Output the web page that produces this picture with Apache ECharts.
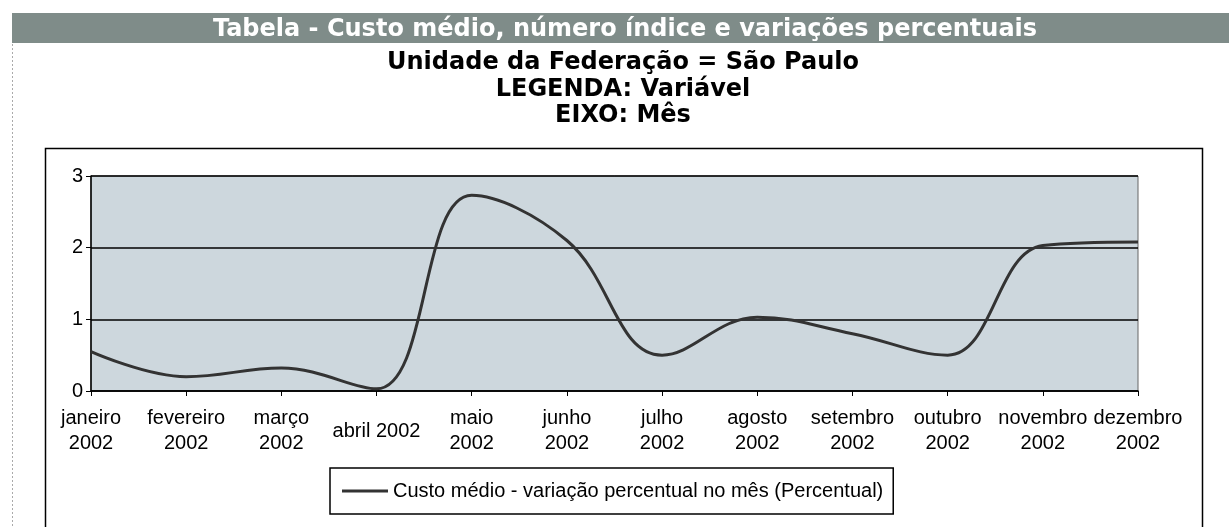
<!DOCTYPE html>
<html>
<head>
<meta charset="utf-8">
<script src="https://cdn.jsdelivr.net/npm/echarts@6/dist/echarts.min.js"></script>
<style>
  html, body { margin: 0; padding: 0; background: #fff; }
  #main { width: 1229px; height: 527px; }
</style>
</head>
<body>
<div id="main"></div>
<script>
var months = [
  'janeiro\n2002', 'fevereiro\n2002', 'março\n2002', 'abril 2002',
  'maio\n2002', 'junho\n2002', 'julho\n2002', 'agosto\n2002',
  'setembro\n2002', 'outubro\n2002', 'novembro\n2002', 'dezembro\n2002'
];
var seriesName = 'Custo médio - variação percentual no mês (Percentual)';
var variacao = [0.55, 0.2, 0.32, 0.03, 2.73, 2.1, 0.5, 1.03, 0.8, 0.5, 2.03, 2.08];

var chart = echarts.init(document.getElementById('main'));

var headStyle = { color: '#000', fontFamily: 'DejaVu Sans', fontWeight: 'bold', fontSize: 24 };

var option = {
  animation: false,
  graphic: [
    // header bar
    {
      type: 'rect',
      shape: { x: 12, y: 13, width: 1217, height: 30 },
      style: { fill: '#7f8c89' },
      z: -10
    },
    // page border on the left
    {
      type: 'line',
      shape: { x1: 12.5, y1: 44, x2: 12.5, y2: 527 },
      style: { stroke: '#aaa', lineWidth: 1, lineDash: [2, 2] }
    },
    // chart frame
    {
      type: 'rect',
      shape: { x: 45.5, y: 148.5, width: 1157, height: 400 },
      style: { fill: 'none', stroke: '#000', lineWidth: 1.5 },
      z: -5
    }
  ],
  title: [
    {
      text: 'Tabela - Custo médio, número índice e variações percentuais',
      left: 625, top: 18, textAlign: 'center', padding: 0,
      textStyle: { color: '#fff', fontFamily: 'DejaVu Sans', fontWeight: 'bold', fontSize: 24 }
    },
    {
      text: 'Unidade da Federação = São Paulo',
      left: 623, top: 51, textAlign: 'center', padding: 0,
      textStyle: headStyle
    },
    {
      text: 'LEGENDA: Variável',
      left: 623, top: 78, textAlign: 'center', padding: 0,
      textStyle: headStyle
    },
    {
      text: 'EIXO: Mês',
      left: 623, top: 104, textAlign: 'center', padding: 0,
      textStyle: headStyle
    }
  ],
  legend: {
    left: 330,
    top: 468,
    padding: [13, 10, 13, 12],
    borderColor: '#000',
    borderWidth: 1.5,
    itemWidth: 46,
    itemHeight: 3,
    data: [{ name: seriesName, icon: 'rect' }],
    textStyle: { color: '#000', fontFamily: 'Liberation Sans', fontSize: 20 }
  },
  grid: {
    left: 91,
    right: 91,
    top: 176,
    bottom: 136,
    show: true,
    backgroundColor: '#cdd7dd',
    borderColor: '#666',
    borderWidth: 1
  },
  xAxis: {
    type: 'category',
    data: months,
    boundaryGap: false,
    axisLine: { lineStyle: { color: '#000', width: 1.5 } },
    axisTick: { show: true, length: 5, lineStyle: { color: '#000' } },
    axisLabel: {
      interval: 0,
      margin: 40,
      verticalAlign: 'middle',
      color: '#000',
      fontFamily: 'Liberation Sans',
      fontSize: 20,
      lineHeight: 25
    }
  },
  yAxis: {
    type: 'value',
    min: 0,
    max: 3,
    interval: 1,
    axisLine: { show: true, lineStyle: { color: '#000', width: 1.5 } },
    axisTick: { show: true, length: 5, lineStyle: { color: '#000' } },
    axisLabel: { margin: 8, color: '#000', fontFamily: 'Liberation Sans', fontSize: 20 },
    splitLine: { lineStyle: { color: '#000', width: 1.5 } }
  },
  series: [
    {
      name: seriesName,
      type: 'line',
      data: variacao,
      smooth: 0.4,
      showSymbol: false,
      lineStyle: { color: '#333', width: 3 },
      itemStyle: { color: '#333' }
    }
  ]
};

chart.setOption(option);
</script>
</body>
</html>
